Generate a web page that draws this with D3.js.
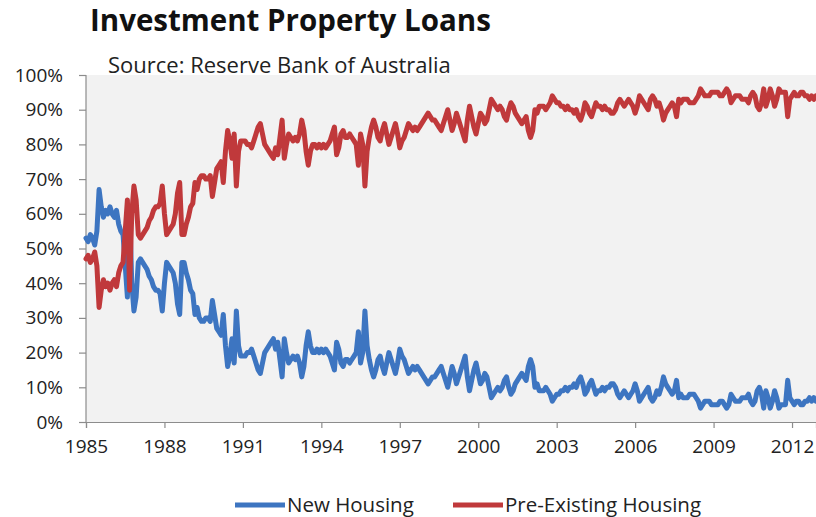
<!DOCTYPE html>
<html>
<head>
<meta charset="utf-8">
<script src="https://cdn.jsdelivr.net/npm/d3@7"></script>
<style>
  body { margin: 0; background: #ffffff; }
  svg { font-family: "Open Sans", sans-serif; }
</style>
</head>
<body>
<svg id="chart_svg" width="816" height="517"></svg>
<script>
// monthly shares, Jan 1985 .. Dec 2012 (percent)
const startYear = 1985;
const yearTicks = [1985, 1988, 1991, 1994, 1997, 2000, 2003, 2006, 2009, 2012];
const percentTicks = [0, 10, 20, 30, 40, 50, 60, 70, 80, 90, 100];

const newHousing = [
  53, 52, 54, 53, 51, 55, 67, 62, 59, 61, 60, 62,
  60, 59, 61, 57, 55, 54, 45, 36, 62, 40, 32, 36,
  46, 47, 46, 45, 44, 42, 41, 39, 38, 38, 37, 32,
  40, 46, 45, 44, 43, 40, 34, 31, 46, 46, 43, 41,
  38, 37, 31, 33, 30, 29, 29, 30, 30, 29, 35, 31,
  27, 26, 25, 31, 22, 16, 19, 24, 17, 32, 22, 19,
  19, 19, 20, 20, 21, 19, 17, 15, 14, 17, 20, 21,
  22, 23, 24, 21, 23, 18, 13, 24, 20, 17, 18, 19,
  18, 19, 17, 13, 16, 22, 26, 22, 20, 20, 21, 20,
  21, 20, 21, 20, 19, 17, 15, 23, 21, 17, 16, 18,
  18, 17, 18, 19, 20, 26, 17, 20, 32, 22, 18, 15,
  13, 15, 18, 19, 16, 14, 17, 20, 18, 16, 14, 17,
  21, 19, 18, 16, 14, 15, 16, 15, 16, 15, 14, 13,
  12, 11, 12, 13, 13, 14, 15, 16, 14, 12, 10, 13,
  16, 14, 11, 13, 15, 17, 19, 13, 9, 12, 15, 17,
  14, 11, 12, 14, 13, 10, 7, 8, 9, 10, 9, 10,
  12, 13, 10, 8, 9, 11, 12, 13, 14, 13, 12, 16,
  18, 16, 10, 11, 9, 9, 9, 10, 9, 8, 6, 7,
  8, 8, 9, 9, 10, 9, 10, 10, 11, 10, 12, 13,
  11, 8, 9, 11, 12, 10, 8, 9, 9, 10, 9, 10,
  10, 11, 11, 10, 8, 7, 8, 9, 8, 7, 8, 9,
  11, 9, 6, 7, 8, 9, 10, 7, 6, 7, 9, 8,
  10, 13, 11, 10, 9, 8, 9, 12, 7, 8, 7, 7,
  7, 8, 8, 8, 7, 6, 4, 5, 6, 6, 6, 5,
  5, 5, 5, 6, 6, 5, 4, 5, 8, 7, 6, 6,
  6, 7, 7, 7, 8, 6, 5, 6, 9, 10, 8, 4,
  9, 7, 4, 6, 9, 7, 4, 5, 5, 5, 12, 7,
  6, 5, 6, 6, 5, 5, 6, 6, 7, 6, 7, 6
];

const preExisting = [
  47, 48, 46, 47, 49, 45, 33, 38, 41, 39, 40, 38,
  40, 41, 39, 43, 45, 46, 55, 64, 38, 60, 68, 64,
  54, 53, 54, 55, 56, 58, 59, 61, 62, 62, 63, 68,
  60, 54, 55, 56, 57, 60, 66, 69, 54, 54, 57, 59,
  62, 63, 69, 67, 70, 71, 71, 70, 70, 71, 65, 69,
  73, 74, 75, 69, 78, 84, 81, 76, 83, 68, 78, 81,
  81, 81, 80, 80, 79, 81, 83, 85, 86, 83, 80, 79,
  78, 77, 76, 79, 77, 82, 87, 76, 80, 83, 82, 81,
  82, 81, 83, 87, 84, 78, 74, 78, 80, 80, 79, 80,
  79, 80, 79, 80, 81, 83, 85, 77, 79, 83, 84, 82,
  82, 83, 82, 81, 80, 74, 83, 80, 68, 78, 82, 85,
  87, 85, 82, 81, 84, 86, 83, 80, 82, 84, 86, 83,
  79, 81, 82, 84, 86, 85, 84, 85, 84, 85, 86, 87,
  88, 89, 88, 87, 87, 86, 85, 84, 86, 88, 90, 87,
  84, 86, 89, 87, 85, 83, 81, 87, 91, 88, 85, 83,
  86, 89, 88, 86, 87, 90, 93, 92, 91, 90, 91, 90,
  88, 87, 90, 92, 91, 89, 88, 87, 86, 87, 88, 84,
  82, 84, 90, 89, 91, 91, 91, 90, 91, 92, 94, 93,
  92, 92, 91, 91, 90, 91, 90, 90, 89, 90, 88, 87,
  89, 92, 91, 89, 88, 90, 92, 91, 91, 90, 91, 90,
  90, 89, 89, 90, 92, 93, 92, 91, 92, 93, 92, 91,
  89, 91, 94, 93, 92, 91, 90, 93, 94, 93, 91, 92,
  90, 87, 89, 90, 91, 92, 91, 88, 93, 92, 93, 93,
  93, 92, 92, 92, 93, 94, 96, 95, 94, 94, 94, 95,
  95, 95, 95, 94, 94, 95, 96, 95, 92, 93, 94, 94,
  94, 93, 93, 93, 92, 94, 95, 94, 91, 90, 92, 96,
  91, 93, 96, 94, 91, 93, 96, 95, 95, 95, 88, 93,
  94, 95, 94, 94, 95, 95, 94, 94, 93, 94, 93, 94
];

const seriesNames = ["New Housing", "Pre-Existing Housing"];
const seriesColors = ["#3d75c1", "#c0393b"];

const svg = d3.select("#chart_svg");
const width = 816;
const height = 517;

const margin = { top: 75, bottom: 95, left: 86, right: 0 };

const xScale = d3.scaleLinear()
  .domain([startYear, startYear + (newHousing.length - 1) / 12])
  .range([margin.left, width - margin.right]);

const yScale = d3.scaleLinear()
  .domain([0, 100])
  .range([height - margin.bottom, margin.top]);

// plot area background
svg.append("rect")
  .attr("x", margin.left)
  .attr("y", margin.top)
  .attr("width", width - margin.left - margin.right)
  .attr("height", height - margin.top - margin.bottom)
  .attr("fill", "#f2f2f2");

// title and source
svg.append("text")
  .attr("x", 90)
  .attr("y", 31)
  .attr("font-size", 29.5)
  .attr("font-weight", "bold")
  .attr("fill", "#111")
  .text("Investment Property Loans");

svg.append("text")
  .attr("x", 108)
  .attr("y", 73)
  .attr("font-size", 22)
  .attr("fill", "#222")
  .text("Source: Reserve Bank of Australia");

// y axis
const y_axis = d3.axisLeft(yScale)
  .tickValues(percentTicks)
  .tickSize(7)
  .tickPadding(16)
  .tickFormat(d => d + "%");

const gy = svg.append("g")
  .attr("transform", "translate(" + margin.left + ",0)")
  .call(y_axis);

// x axis
const x_axis = d3.axisBottom(xScale)
  .tickValues(yearTicks)
  .tickSize(6)
  .tickPadding(12)
  .tickFormat(d3.format("d"));

const gx = svg.append("g")
  .attr("transform", "translate(0," + (height - margin.bottom) + ")")
  .call(x_axis);

[gx, gy].forEach(g => {
  g.select(".domain").attr("stroke", "#8c8c8c").attr("stroke-width", 1.2);
  g.selectAll(".tick line").attr("stroke", "#8c8c8c").attr("stroke-width", 1.2);
  g.selectAll(".tick text")
    .attr("font-family", "Open Sans, sans-serif")
    .attr("font-size", 19)
    .attr("fill", "#222");
});
gy.select(".domain").attr("d", "M0," + yScale(100) + "V" + yScale(0));

// lines
const line = d3.line()
  .x((d, i) => xScale(startYear + i / 12))
  .y(d => yScale(d));

[newHousing, preExisting].forEach((values, k) => {
  svg.append("path")
    .datum(values)
    .attr("fill", "none")
    .attr("stroke", seriesColors[k])
    .attr("stroke-width", 5)
    .attr("stroke-linejoin", "round")
    .attr("stroke-linecap", "round")
    .attr("d", line);
});

// legend
const legendX = [235, 453];
const legend = svg.append("g").attr("class", "legend");
seriesNames.forEach((name, k) => {
  legend.append("line")
    .attr("x1", legendX[k])
    .attr("x2", legendX[k] + 50)
    .attr("y1", 505)
    .attr("y2", 505)
    .attr("stroke", seriesColors[k])
    .attr("stroke-width", 5);
  legend.append("text")
    .attr("x", legendX[k] + 52)
    .attr("y", 512)
    .attr("font-size", 20.5)
    .attr("fill", "#222")
    .text(name);
});
</script>
</body>
</html>
